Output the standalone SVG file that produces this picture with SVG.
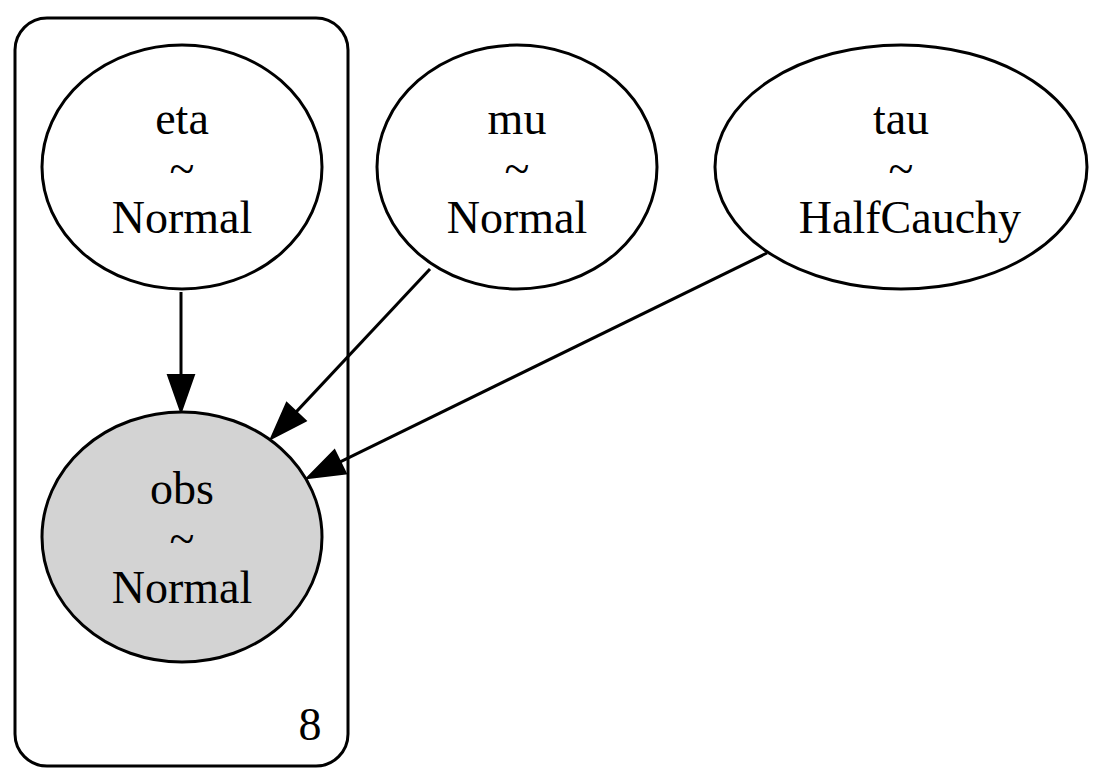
<svg xmlns="http://www.w3.org/2000/svg" width="1119" height="783" viewBox="0 0 1119 783">
<style>
.node ellipse{stroke:#000;stroke-width:3}
.lbl{font-family:"Liberation Serif","Times New Roman",serif;font-size:46px;fill:#000;text-anchor:middle}
.edge{stroke:#000;stroke-width:3;fill:none}
</style>
<defs>
<marker id="ah" markerUnits="userSpaceOnUse" markerWidth="40" markerHeight="30" viewBox="0 -15 40 30" refX="0" refY="0" orient="auto" overflow="visible">
<path d="M0,-13 L37,0 L0,13 Z" fill="#000" stroke="#000" stroke-width="2"/>
</marker>
</defs>
<rect width="1119" height="783" fill="#fff"/>
<g id="cluster_8">
<rect x="15" y="18" width="333" height="748" rx="32" ry="32" fill="none" stroke="#000" stroke-width="3"/>
<text class="lbl" x="310" y="740">8</text>
</g>
<g id="edges">
<path class="edge" d="M181,292 L181,375" marker-end="url(#ah)"/>
<path class="edge" d="M430,269 L296.2,411.9" marker-end="url(#ah)"/>
<path class="edge" d="M767,253 L340.2,461.8" marker-end="url(#ah)"/>
</g>
<g id="eta" class="node">
<ellipse cx="182" cy="167" rx="140" ry="122" fill="#fff"/>
<text class="lbl" x="182" y="134">eta</text>
<text class="lbl" x="182" y="184">~</text>
<text class="lbl" x="182" y="233">Normal</text>
</g>
<g id="mu" class="node">
<ellipse cx="517" cy="167" rx="140" ry="122" fill="#fff"/>
<text class="lbl" x="517" y="134">mu</text>
<text class="lbl" x="517" y="184">~</text>
<text class="lbl" x="517" y="233">Normal</text>
</g>
<g id="tau" class="node">
<ellipse cx="901" cy="167" rx="186" ry="122" fill="#fff"/>
<text class="lbl" x="901" y="134">tau</text>
<text class="lbl" x="901" y="184">~</text>
<text class="lbl" x="910" y="233">HalfCauchy</text>
</g>
<g id="obs" class="node">
<ellipse cx="182" cy="537" rx="140" ry="125" fill="#d3d3d3"/>
<text class="lbl" x="182" y="504">obs</text>
<text class="lbl" x="182" y="554">~</text>
<text class="lbl" x="182" y="603">Normal</text>
</g>
</svg>
